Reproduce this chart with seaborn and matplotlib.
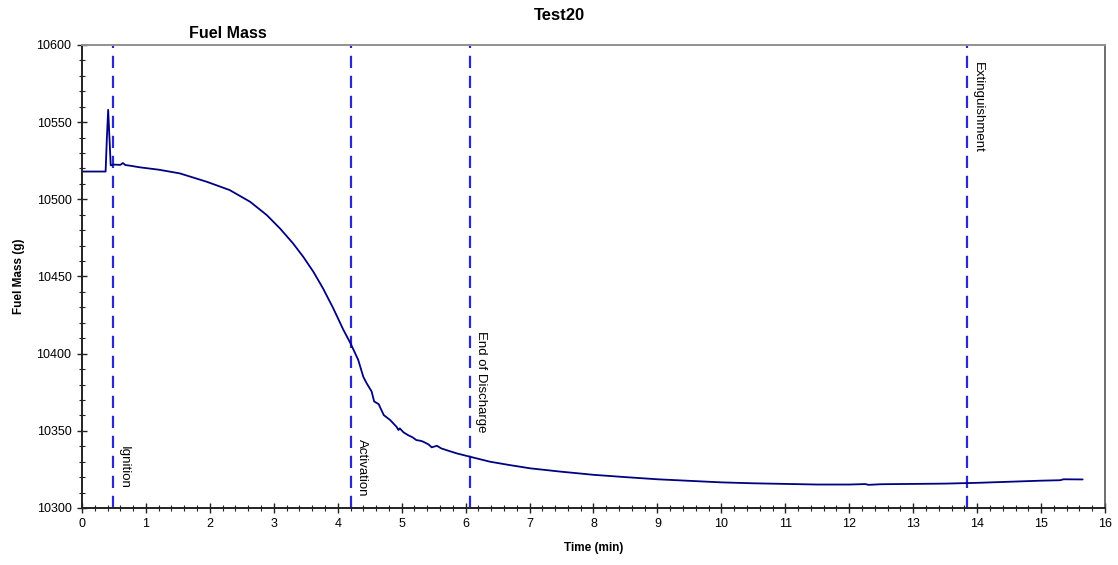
import matplotlib
matplotlib.use("Agg")
import matplotlib.pyplot as plt
import seaborn as sns
import pandas as pd
from matplotlib.ticker import MultipleLocator

# ---- data ----
time_min = [0.0, 0.37, 0.39, 0.41, 0.43, 0.45, 0.50, 0.60, 0.64, 0.68, 0.75, 0.91,
            1.2, 1.53, 1.95, 2.31, 2.63, 2.89, 3.10, 3.30, 3.46, 3.62, 3.77, 3.93,
            4.09, 4.20, 4.32, 4.40, 4.45, 4.53, 4.57, 4.64, 4.72, 4.82, 4.92, 4.95,
            4.97, 5.03, 5.10, 5.17, 5.23, 5.30, 5.34, 5.42, 5.47, 5.55, 5.62, 5.70,
            5.86, 6.07, 6.38, 6.69, 7.01, 7.5, 8.0, 8.5, 9.0, 9.5, 10.0, 10.5, 11.0,
            11.5, 12.0, 12.25, 12.3, 12.5, 13.0, 13.5, 14.0, 14.5, 15.0, 15.3,
            15.35, 15.65]
fuel_mass = [10518, 10518, 10540, 10558, 10540, 10522, 10522.5, 10522.3, 10523.5,
             10522.2, 10521.8, 10520.7, 10519.2, 10516.8, 10511.4, 10506, 10498.4,
             10489.8, 10481, 10471.5, 10462.8, 10453, 10442.3, 10429.4, 10415.3,
             10406.7, 10396, 10385, 10381, 10375.5, 10369, 10367.3, 10360.2, 10357,
             10352.6, 10350.5, 10351.6, 10349, 10347.2, 10345.8, 10344, 10343.5,
             10342.9, 10341.2, 10339.3, 10340.3, 10338.6, 10337.5, 10335.4, 10333.2,
             10330, 10327.8, 10325.7, 10323.5, 10321.5, 10320, 10318.6, 10317.6,
             10316.6, 10316, 10315.6, 10315.2, 10315.2, 10315.5, 10315.0, 10315.4,
             10315.6, 10315.8, 10316.3, 10317, 10317.7, 10318.0, 10318.6, 10318.5]

event_times = [0.48, 4.21, 6.07, 13.84]
event_labels = ["Ignition", "Activation", "End of Discharge", "Extinguishment"]

x_ticks = list(range(0, 17))
y_ticks = [10300, 10350, 10400, 10450, 10500, 10550, 10600]

df = pd.DataFrame({"Time (min)": time_min, "Fuel Mass (g)": fuel_mass})

# ---- styling ----
sns.set_theme(style="white")
plt.rcParams["font.family"] = ["Liberation Sans", "DejaVu Sans"]
plt.rcParams["text.color"] = "black"
plt.rcParams["axes.labelcolor"] = "black"
plt.rcParams["xtick.color"] = "black"
plt.rcParams["ytick.color"] = "black"

fig = plt.figure(figsize=(11.18, 5.65), dpi=100)
ax = fig.add_axes([0.0733, 0.1009, 0.9151, 0.8195])

sns.lineplot(data=df, x="Time (min)", y="Fuel Mass (g)", ax=ax,
             color="#000080", linewidth=1.3, estimator=None, sort=False)

label_tops = [10340, 10345, 10415, 10589]
for t, lab, top in zip(event_times, event_labels, label_tops):
    ax.axvline(t, color="#2a2acc", linestyle=(0, (5.5, 3.5)), linewidth=1.6, zorder=1)
    ax.text(t + 0.08, top, lab, rotation=270, ha="left", va="top",
            fontsize=9.5, color="black")

ax.set_xlim(0, 16)
ax.set_ylim(10300, 10600)
ax.set_xticks(x_ticks)
ax.set_yticks(y_ticks)
ax.xaxis.set_minor_locator(MultipleLocator(0.2))
ax.yaxis.set_minor_locator(MultipleLocator(10))
ax.tick_params(axis="both", which="major", direction="inout", length=7, width=1,
               labelsize=9, color="#222222", labelcolor="black", pad=4,
               bottom=True, left=True)
ax.tick_params(axis="both", which="minor", direction="inout", length=4, width=0.8,
               color="#222222", bottom=True, left=True)

ax.set_xlabel("Time (min)", fontsize=8.5, fontweight="bold", labelpad=8, color="black")
ax.set_ylabel("Fuel Mass (g)", fontsize=8.5, fontweight="bold", labelpad=8, color="black")

for side in ["left", "bottom"]:
    ax.spines[side].set_color("#222222")
    ax.spines[side].set_linewidth(1.4)
ax.spines["top"].set_color("#909090")
ax.spines["top"].set_linewidth(1.4)
ax.spines["right"].set_color("#555555")
ax.spines["right"].set_linewidth(1.2)

fig.text(0.5, 0.972, "Test20", ha="center", va="center", fontsize=12,
         fontweight="bold", color="black")
fig.text(0.204, 0.941, "Fuel Mass", ha="center", va="center", fontsize=11.5,
         fontweight="bold", color="black")

fig.savefig("out.png", dpi=100, facecolor="white")
